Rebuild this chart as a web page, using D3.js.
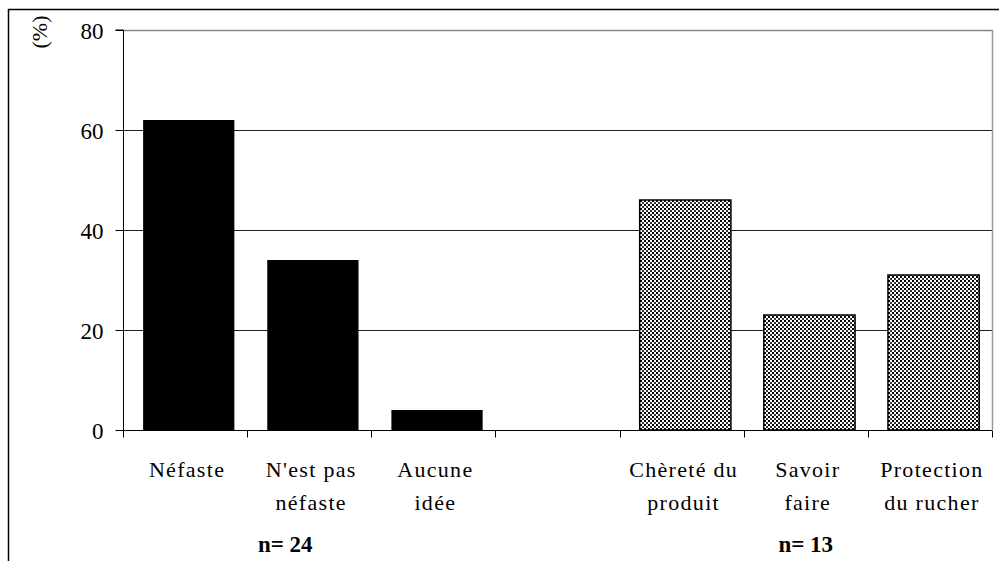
<!DOCTYPE html>
<html><head><meta charset="utf-8">
<script src="https://cdn.jsdelivr.net/npm/d3@7"></script>
<style>body{margin:0;background:#fff}svg{display:block}
svg text{font-family:"Liberation Serif","Times New Roman","DejaVu Serif",serif;fill:#000}</style>
</head><body>
<svg id="c" width="999" height="561"></svg>
<script>
const categories = ["Néfaste", "N'est pas|néfaste", "Aucune|idée", "", "Chèreté du|produit", "Savoir|faire", "Protection|du rucher"];
const values = [62, 34, 4, null, 46, 23, 31];
const groups = ["solid", "solid", "solid", null, "dots", "dots", "dots"];
const groupLabels = ["n= 24", "n= 13"];
const groupCenters = ["N'est pas|néfaste", "Savoir|faire"];
const yTicks = [0, 20, 40, 60, 80];

const svg = d3.select("#c");
const m = {l:123, r:992, t:30, b:430};
const groupOffsets = [-24, 0];

const defs = svg.append("defs");
const pat = defs.append("pattern").attr("id","dots").attr("patternUnits","userSpaceOnUse")
  .attr("width",4).attr("height",4);
pat.append("rect").attr("width",4).attr("height",4).attr("fill","#fff");
pat.append("rect").attr("x",0).attr("y",0).attr("width",2).attr("height",2).attr("fill","#000");
pat.append("rect").attr("x",2).attr("y",2).attr("width",2).attr("height",2).attr("fill","#333");

// outer frame
svg.append("line").attr("x1",8).attr("x2",999).attr("y1",9.5).attr("y2",9.5).attr("stroke","#000").attr("stroke-width",1.5);
svg.append("line").attr("x1",8.5).attr("x2",8.5).attr("y1",9).attr("y2",561).attr("stroke","#000").attr("stroke-width",1.5);

const x = d3.scaleBand().domain(categories).range([m.l, m.r]).padding(0);
const y = d3.scaleLinear().domain([0,80]).range([m.b, m.t]);

// gridlines
svg.append("g").selectAll("line").data(yTicks.filter(d=>d>0 && d<80)).join("line")
  .attr("x1",m.l).attr("x2",m.r).attr("y1",d=>Math.round(y(d))+0.5).attr("y2",d=>Math.round(y(d))+0.5)
  .attr("stroke","#222").attr("stroke-width",1);
// plot border top & right (gray)
svg.append("line").attr("x1",m.l).attr("x2",m.r+1).attr("y1",y(80)+0.5).attr("y2",y(80)+0.5).attr("stroke","#888").attr("stroke-width",1.5);
svg.append("line").attr("x1",m.r+0.5).attr("x2",m.r+0.5).attr("y1",y(80)).attr("y2",y(0)).attr("stroke","#999").attr("stroke-width",1.5);

// bars
const bw = x.bandwidth();
svg.append("g").selectAll("rect").data(categories.map((c,i)=>({c, v:values[i], g:groups[i]})).filter(d=>d.v!=null)).join("rect")
  .attr("x", d=>x(d.c) + bw*0.162)
  .attr("width", bw*0.735)
  .attr("y", d=>y(d.v))
  .attr("height", d=>y(0)-y(d.v))
  .attr("fill", d=>d.g==="solid" ? "#000" : "url(#dots)")
  .attr("stroke", "#000")
  .attr("stroke-width", d=>d.g==="solid" ? 0 : 1.5);

// y axis
const yAxis = d3.axisLeft(y).tickValues(yTicks).tickSize(8).tickPadding(12);
const gy = svg.append("g").attr("transform",`translate(${m.l+0.5},0)`).call(yAxis);
gy.attr("font-family", null).attr("font-size", null);
gy.select(".domain").attr("stroke","#000").attr("d",`M-8,${y(80)}H0V${y(0)+6}`);
gy.selectAll(".tick line").attr("stroke","#000");
gy.selectAll(".tick text").style("font-size","23px").attr("fill","#000").attr("dy","0.37em");

// x axis
const xAxis = d3.axisBottom(x).tickSize(0).tickFormat("");
const gx = svg.append("g").attr("transform",`translate(0,${m.b+0.5})`).call(xAxis);
gx.select(".domain").attr("stroke","#000").attr("d",`M${m.l-6},0H${m.r}`);
const bounds = categories.map(c=>x(c)).concat([m.r]);
gx.append("g").selectAll("line").data(bounds).join("line")
  .attr("x1",d=>Math.round(d)+0.5).attr("x2",d=>Math.round(d)+0.5).attr("y1",0).attr("y2",7).attr("stroke","#000");

// category labels
const lab = svg.append("g").attr("text-anchor","middle");
categories.forEach(c=>{
  if(!c) return;
  const lines = c.split("|");
  const cx = x(c) + bw/2 + 2;
  lines.forEach((t,j)=>{
    lab.append("text").attr("x",cx).attr("y",477 + j*33)
      .style("font-size","22px").style("letter-spacing","1.3px").text(t);
  });
});

// group labels
groupLabels.forEach((t,i)=>{
  svg.append("text").attr("x", x(groupCenters[i]) + bw/2 + groupOffsets[i]).attr("y",552)
    .attr("text-anchor","middle").style("font-size","23px").style("font-weight","bold").text(t);
});

// y title
svg.append("text").attr("transform","translate(47,32) rotate(-90)").attr("text-anchor","middle")
  .style("font-size","22px").text("(%)");
</script>
</body></html>
